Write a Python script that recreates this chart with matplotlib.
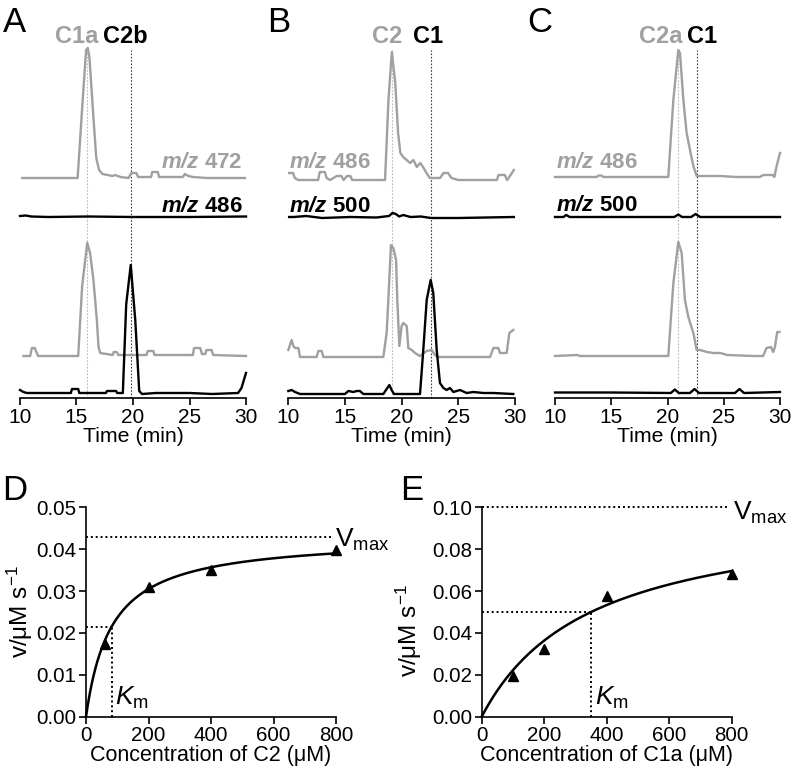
import numpy as np
import matplotlib
matplotlib.use('Agg')
import matplotlib.pyplot as plt

plt.rcParams['font.family'] = ['Liberation Sans', 'DejaVu Sans']
plt.rcParams['mathtext.fontset'] = 'custom'
plt.rcParams['mathtext.rm'] = 'Liberation Sans'
plt.rcParams['mathtext.it'] = 'Liberation Sans:italic'
plt.rcParams['mathtext.bf'] = 'Liberation Sans:bold:italic'

GRAY = '#a0a0a0'
W, H = 793, 780

# --- chromatogram traces: (time [min], intensity [a.u.]) ---
a_top_gray = [(10.2, 0), (15.1, 0), (15.5, 70), (15.85, 128), (16.0, 130), (16.15, 120),
              (16.5, 60), (16.75, 20), (17.0, 8), (17.3, 4), (18.2, 2), (18.4, 3), (18.9, 1),
              (19.6, 0), (19.85, 5), (20.3, 5), (20.45, 1), (21.6, 1), (21.7, 6), (22.2, 6),
              (22.3, 1), (24.4, 1), (24.6, 4), (24.9, 2), (25.3, 1), (26.5, 0), (29.9, 0)]
a_top_black = [(10.0, 1), (10.5, 1.5), (11.0, 0.5), (12.5, 0), (16.0, 0.5), (20.0, 0),
               (25.0, 0), (30.0, 0.5)]
a_low_gray = [(10.3, 0), (10.9, 0), (11.05, 8), (11.3, 8), (11.6, 0), (15.15, 0), (15.5, 70),
              (15.95, 113), (16.2, 103), (16.5, 76), (16.65, 56), (16.8, 36), (16.95, 9),
              (17.1, 3), (18.2, 1), (18.3, 4), (18.55, 4), (18.7, 1), (21.2, 1), (21.3, 5),
              (21.8, 5), (21.9, 1), (25.3, 1), (25.4, 8), (25.95, 8), (26.1, 2), (26.4, 2),
              (26.5, 6), (26.95, 6), (27.1, 1), (30.0, 0)]
a_low_black = [(10.0, 3), (10.3, 1), (10.6, 0), (14.5, 0), (14.6, 4), (15.15, 4), (15.25, 0),
               (17.6, 0), (17.7, 2), (18.5, 2), (18.6, 0), (19.1, 0), (19.4, 89), (19.8, 128),
               (20.2, 73), (20.55, 2), (20.8, -1), (22.0, 0), (25.0, 0), (27.0, -1),
               (29.3, 0), (29.6, 5), (30.0, 20)]

b_top_gray = [(10.1, 7), (10.45, 7), (10.6, 2), (10.9, 0), (12.65, 0), (12.8, 8), (13.25, 8),
              (13.4, 2), (13.7, 0), (14.3, 4), (14.7, 4), (14.9, 0), (15.2, 4), (15.5, 4),
              (15.65, 0), (16.05, 0), (18.55, 0), (18.85, 80), (19.15, 128), (19.45, 97),
              (19.7, 47), (19.9, 27), (20.15, 23), (20.45, 20), (20.75, 17), (21.05, 20),
              (21.35, 13), (21.65, 17), (21.9, 13), (22.2, 7), (22.5, 2), (23.4, 2), (23.7, 7),
              (24.1, 7), (24.4, 2), (25.0, 0), (28.4, 0), (28.55, 5), (29.1, 5), (29.3, 0),
              (29.5, 3), (29.9, 10)]
b_top_black = [(10.1, 1), (10.5, 1), (11.6, 2), (13.0, 0), (15.5, 1), (17.8, 0.5), (18.9, 2),
               (19.2, 5), (19.5, 4), (19.8, 1.5), (20.15, 3), (20.8, 1), (21.7, 1.5),
               (22.6, 0), (25.0, 0), (29.9, 1)]
b_low_gray = [(10.03, 7), (10.32, 17), (10.47, 11), (10.62, 9), (10.91, 9), (11.06, 0),
              (12.53, 0), (12.67, 6), (12.97, 6), (13.11, 0), (18.4, 0), (18.69, 24),
              (18.84, 57), (19.07, 112), (19.28, 109), (19.52, 97), (19.63, 57), (19.81, 11),
              (20.01, 31), (20.16, 34), (20.46, 31), (20.6, 9), (20.9, 7), (21.19, 4),
              (21.63, 1), (22.22, 6), (22.66, 7), (22.95, 2), (23.25, 0), (27.8, 0),
              (28.1, 9), (28.53, 9), (28.68, 4), (29.27, 4), (29.5, 24), (29.85, 27)]
b_low_black = [(10.03, 3), (10.32, 4), (10.62, 2), (11.06, 0), (15.02, 0), (15.32, 3),
               (15.76, 2), (16.05, 3), (16.34, 3), (16.64, 0), (18.4, 0), (18.69, 5),
               (18.93, 9), (19.13, 4), (19.34, 0), (21.63, 0), (21.92, 44), (22.22, 94),
               (22.57, 114), (22.8, 101), (23.1, 44), (23.39, 11), (23.69, 6), (23.98, 4),
               (24.27, 6), (24.57, 2), (25.15, 4), (25.74, 1), (26.33, 2), (27.21, 1),
               (28.1, 1), (29.85, 0)]

c_top_gray = [(10.0, 0), (13.7, 0), (13.85, 1.5), (14.15, 1.5), (14.3, 0), (20.07, 0),
              (20.52, 77), (20.96, 127), (21.11, 124), (21.41, 77), (21.7, 44), (22.0, 27),
              (22.3, 11), (22.59, 1), (24.67, 1), (26.1, 0), (28.2, 0), (28.52, 2),
              (29.35, 2), (29.5, 0), (29.7, 11), (30.0, 24)]
c_top_black = [(10.0, 0), (10.75, 0), (11.0, 2), (11.3, 0), (20.6, 0), (20.96, 2.5),
               (21.3, 0), (22.1, 0), (22.5, 3), (22.9, 0), (30.0, 0)]
c_low_gray = [(10.0, 0), (12.0, 1), (12.2, 0), (20.07, 0), (20.52, 73), (20.96, 114),
              (21.26, 103), (21.55, 56), (21.85, 39), (22.3, 23), (22.59, 6), (22.9, 6),
              (23.5, 4), (24.1, 3), (24.7, 3), (25.3, 1), (27.6, 0), (28.5, 0), (28.8, 8),
              (29.2, 9), (29.4, 4), (29.55, 9), (29.75, 24), (29.95, 24)]
c_low_black = [(10.0, 0.5), (15.0, 0.5), (20.3, 0), (20.65, 3.5), (21.0, 0), (22.0, 0),
               (22.4, 4), (22.8, 0), (26.0, 0), (26.4, 4), (26.8, 0), (30.0, 1)]

time_ticks = [10, 15, 20, 25, 30]

# --- kinetics ---
conc_c2 = [60, 200, 400, 800]
rate_c2 = [0.0173, 0.0310, 0.0350, 0.0398]
vmax_c2, km_c2 = 0.043, 82
conc_c1a = [100, 200, 400, 800]
rate_c1a = [0.0196, 0.0323, 0.0576, 0.0682]
vmax_c1a, km_c1a = 0.10, 350


def px_axes(left, top, width, height):
    return fig.add_axes([left / W, 1 - (top + height) / H, width / W, height / H])


def fig_text(x, y, s, **kw):
    fig.text(x / W, 1 - y / H, s, **kw)


fig = plt.figure(figsize=(W / 100, H / 100), dpi=100)

panels = [
    dict(letter='A', lx=3, left=20, width=226,
         traces=[(a_top_gray, 220, GRAY), (a_top_black, 181, 'black'),
                 (a_low_gray, 42, GRAY), (a_low_black, 5, 'black')],
         marks=(15.95, 19.8), names=(('C1a', 15.05), ('C2b', 19.35)),
         mz=(('472', '486'), 29.7, 'right', (230, 186))),
    dict(letter='B', lx=267, left=288, width=227,
         traces=[(b_top_gray, 218, GRAY), (b_top_black, 180, 'black'),
                 (b_low_gray, 41, GRAY), (b_low_black, 4, 'black')],
         marks=(19.2, 22.6), names=(('C2', 18.77), ('C1', 22.3)),
         mz=(('486', '500'), 10.05, 'left', (230, 186))),
    dict(letter='C', lx=527, left=555, width=225,
         traces=[(c_top_gray, 221, GRAY), (c_top_black, 181, 'black'),
                 (c_low_gray, 42, GRAY), (c_low_black, 5, 'black')],
         marks=(20.96, 22.6), names=(('C2a', 19.38), ('C1', 23.1)),
         mz=(('486', '500'), 10.05, 'left', (230, 187))),
]

for p in panels:
    ax = px_axes(p['left'], 28, p['width'], 370)
    ax.set_xlim(10, 30)
    ax.set_ylim(0, 370)
    for sp in ['left', 'top', 'right']:
        ax.spines[sp].set_visible(False)
    ax.spines['bottom'].set_linewidth(1.2)
    ax.set_yticks([])
    ax.set_xticks(time_ticks)
    ax.tick_params(axis='x', direction='out', length=5, width=1.2, labelsize=15, pad=2)
    ax.set_xlabel('Time (min)', fontsize=15.3, labelpad=0)

    g, k = p['marks']
    ax.plot([g, g], [0, 348], color='#b8b8b8', lw=0.8, ls=(0, (1.5, 1.5)))
    ax.plot([k, k], [0, 348], color='#404040', lw=0.8, ls=(0, (1.5, 1.5)))

    for data, off, col in p['traces']:
        t, h = np.array(data).T
        ax.plot(t, h + off, color=col, lw=1.7, clip_on=False)

    (n1, x1), (n2, x2) = p['names']
    ax.text(x1, 355, n1, color=GRAY, fontsize=17, fontweight='bold', ha='center', va='baseline')
    ax.text(x2, 355, n2, color='black', fontsize=17, fontweight='bold', ha='center', va='baseline')

    (m1, m2), mx, ha, (y1, y2) = p['mz']
    ax.text(mx, y1, r'$\mathbf{m/z}$ ' + m1, color=GRAY, fontsize=16, fontweight='bold',
            ha=ha, va='baseline')
    ax.text(mx, y2, r'$\mathbf{m/z}$ ' + m2, color='black', fontsize=16, fontweight='bold',
            ha=ha, va='baseline')

    fig_text(p['lx'], 32, p['letter'], fontsize=25, va='baseline', ha='left')

# --- kinetics panels ---
kin = [
    dict(letter='D', lx=2, ly=500, left=86, conc=conc_c2, rate=rate_c2, vmax=vmax_c2, km=km_c2,
         ymax=0.05, yticks=np.arange(0, 0.051, 0.01), name='C2',
         vlab=(798, 0.0406), klab=(93, 0.0028), ylab=(-0.205, 0.5)),
    dict(letter='E', lx=400, ly=500, left=481.7, conc=conc_c1a, rate=rate_c1a, vmax=vmax_c1a,
         km=km_c1a, ymax=0.10, yticks=np.arange(0, 0.101, 0.02), name='C1a',
         vlab=(803, 0.0939), klab=(363, 0.0056), ylab=(-0.23, 0.41)),
]

for p in kin:
    ax = px_axes(p['left'], 507.3, 250, 209.4)
    ax.set_xlim(0, 800)
    ax.set_ylim(0, p['ymax'])
    for sp in ['top', 'right']:
        ax.spines[sp].set_visible(False)
    for sp in ['left', 'bottom']:
        ax.spines[sp].set_linewidth(1.2)
    ax.set_xticks([0, 200, 400, 600, 800])
    ax.set_yticks(p['yticks'])
    ax.set_yticklabels(['%.2f' % v for v in p['yticks']])
    ax.tick_params(direction='out', length=5, width=1.2, labelsize=14.8, pad=2)
    ax.set_xlabel('Concentration of %s (\u03bcM)' % p['name'], fontsize=15.5, labelpad=0)
    ax.set_ylabel('v/\u03bcM s$^{-1}$', fontsize=17.5)
    ax.yaxis.set_label_coords(*p['ylab'])

    s = np.linspace(0, 800, 400)
    ax.plot(s, p['vmax'] * s / (p['km'] + s), color='black', lw=1.8, clip_on=False)
    ax.plot(p['conc'], p['rate'], '^', color='black', ms=7, clip_on=False)

    vhalf = p['vmax'] / 2
    ax.plot([0, 790], [p['vmax'], p['vmax']], color='black', lw=1.4, ls=(0, (1, 1.5)), clip_on=False)
    ax.plot([0, p['km']], [vhalf, vhalf], color='black', lw=1.4, ls=(0, (1, 1.5)))
    ax.plot([p['km'], p['km']], [0, vhalf], color='black', lw=1.4, ls=(0, (1, 1.5)))

    ax.text(*p['vlab'], r'V$_{\mathrm{max}}$', fontsize=19, ha='left', va='baseline')
    ax.text(*p['klab'], r'$K_{\mathrm{m}}$', fontsize=19, ha='left', va='baseline')

    fig_text(p['lx'], p['ly'], p['letter'], fontsize=25, va='baseline', ha='left')

fig.savefig('out.png', dpi=100)
